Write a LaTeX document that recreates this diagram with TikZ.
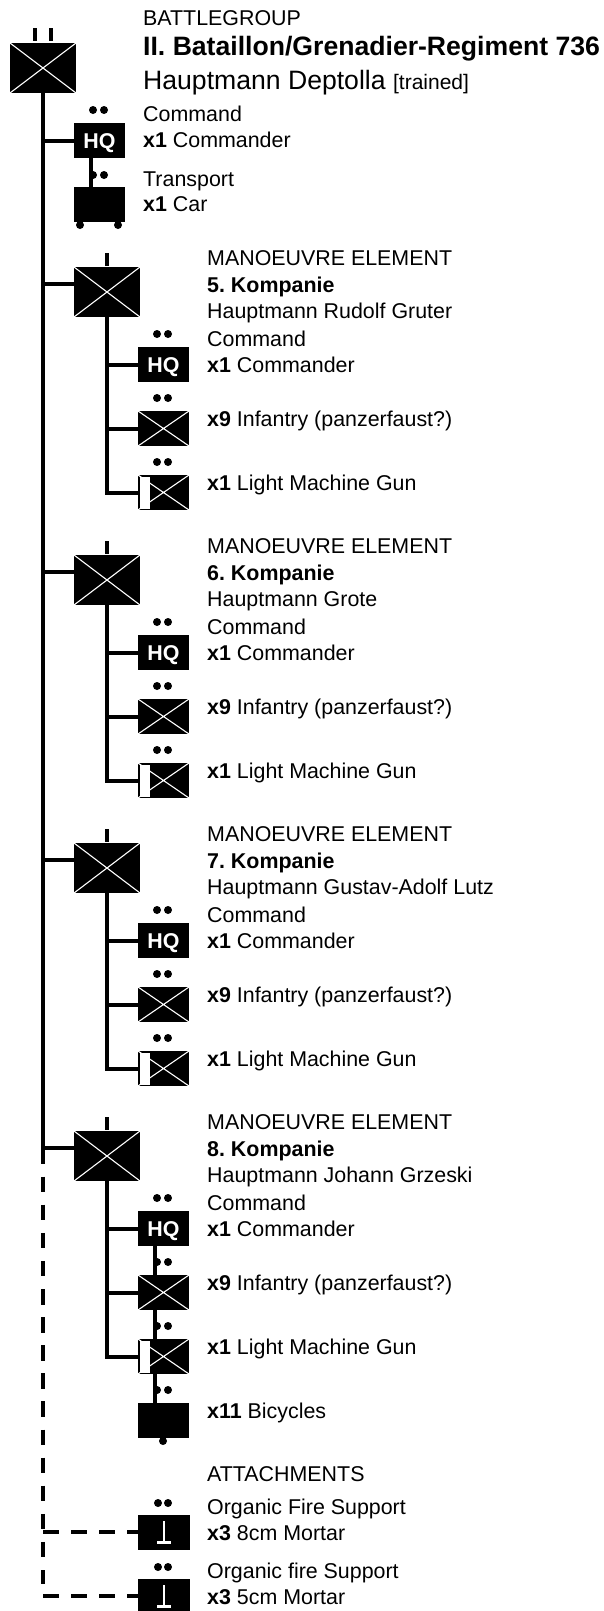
\documentclass[tikz,border=0pt]{standalone}
\usepackage{fontspec}
\setmainfont{Liberation Sans}
\usetikzlibrary{positioning}
\frenchspacing
\tikzstyle{unit} = [rectangle, fill=black, inner sep=0pt, minimum width=51pt, minimum height=35pt]
\tikzstyle{bigunit} = [rectangle, fill=black, inner sep=0pt, minimum width=66pt, minimum height=50pt]
\tikzstyle{crossed} = [path picture={\draw [white, line width=1.1pt] (path picture bounding box.north west) -- (path picture bounding box.south east) (path picture bounding box.north east) -- (path picture bounding box.south west);}]
\tikzstyle{hq} = [unit, text=white, text height=15pt, text depth=0pt, font=\fontsize{21.4}{21.4}\selectfont\bfseries]
\tikzstyle{label} = [anchor=base west, inner sep=0pt, font=\fontsize{21.4}{21.4}\selectfont]
\tikzstyle{link} = [line width=4pt]
\tikzstyle{attached} = [line width=4pt, dash pattern=on 15.5pt off 12.6pt]
\tikzstyle{solidNode} = [circle, inner sep=0pt, minimum size=8pt, fill=black]
\tikzstyle{rank} = [rectangle, inner sep=0pt, minimum width=3.5pt, minimum height=13pt, fill=black]
\begin{document}
\begin{tikzpicture}[x=1pt, y=-1pt]
\useasboundingbox (0,0) rectangle (603,1611);
% battlegroup
\node (bg) [bigunit, crossed] at (43,68) {};
\node (bgrank1) [rank] at (35,35) {};
\node (bgrank2) [rank] at (51,35) {};
\node (bgtitle) [label] at (143,25.5) {BATTLEGROUP};
\node (bgname) [label, font=\fontsize{26.6}{26.6}\selectfont\bfseries] at (143,56) {II. Bataillon/Grenadier-Regiment 736};
\node (bgcommander) [label, font=\fontsize{26.6}{26.6}\selectfont] at (143,89.5) {Hauptmann Deptolla {\fontsize{21}{21}\selectfont [trained]}};
% command and transport
\node (bghq) [hq] at (99.5,140.5) {HQ};
\node (car) [unit] at (99.5,204.5) {};
\foreach \n/\x/\y in {bghqa/93/110, bghqb/104/110, cara/93/175, carb/104/175, wheela/80/225, wheelb/118/225} {
  \node (\n) [solidNode] at (\x,\y) {};
}
\node (bghqtext) [label] at (143,121.7) {Command};
\node (bghqcount) [label] at (143,147.7) {\textbf{x1} Commander};
\node (cartext) [label] at (143,186) {Transport};
\node (carcount) [label] at (143,211.5) {\textbf{x1} Car};
\coordinate (trunk) at (43,1164);
\coordinate (bgstem) at (43,140.5);
\coordinate (carstem) at (91,0);
\draw [link] (bg.south) -- (trunk);
\draw [link] (bgstem) -- (bghq.west);
\draw [link] (bghq.south -| carstem) -- (car.north -| carstem);
% the four companies
\foreach \k/\name/\boss [count=\i from 0] in {5/5. Kompanie/Hauptmann Rudolf Gruter, 6/6. Kompanie/Hauptmann Grote, 7/7. Kompanie/Hauptmann Gustav-Adolf Lutz, 8/8. Kompanie/Hauptmann Johann Grzeski} {
\begin{scope}[yshift=-\i*288pt]
  \node (co\k) [bigunit, crossed] at (107,292) {};
  \node (rank\k) [rank] at (107,259) {};
  \node (hq\k) [hq] at (163.5,364.5) {HQ};
  \node (inf\k) [unit, crossed] at (163.5,428.5) {};
  \node (lmg\k) [unit, crossed] at (163.5,492.5) {};
  \node (lmgbar\k) [rectangle, inner sep=0pt, minimum width=10pt, minimum height=32pt, fill=white] at (144.5,492.5) {};
  \foreach \d in {334,398,462} {
    \node (dota\k\d) [solidNode] at (157,\d) {};
    \node (dotb\k\d) [solidNode] at (168,\d) {};
  }
  \coordinate (branch\k) at (43,283.5);
  \coordinate (stem\k) at (107,492.5);
  \coordinate (stemhq\k) at (107,364.5);
  \coordinate (steminf\k) at (107,428.5);
  \draw [link] (co\k.south) -- (stem\k) -- (lmg\k.west);
  \draw [link] (stemhq\k) -- (hq\k.west);
  \draw [link] (steminf\k) -- (inf\k.west);
  \draw [link] (branch\k) -- (branch\k -| co\k.west);
  \node (head\k) [label] at (207,265.5) {MANOEUVRE ELEMENT};
  \node (name\k) [label, font=\fontsize{21.4}{21.4}\selectfont\bfseries] at (207,292) {\name};
  \node (boss\k) [label] at (207,318.2) {\boss};
  \node (cmd\k) [label] at (207,346.2) {Command};
  \node (hqtext\k) [label] at (207,372.2) {\textbf{x1} Commander};
  \node (inftext\k) [label] at (207,426.2) {\textbf{x9} Infantry (panzerfaust?)};
  \node (lmgtext\k) [label] at (207,490.5) {\textbf{x1} Light Machine Gun};
\end{scope}
}
% extra in 8. Kompanie
\node (bike) [unit] at (163.5,1420.5) {};
\node (bikewheel) [solidNode] at (163,1441) {};
\node (biketext) [label] at (207,1418) {\textbf{x11} Bicycles};
\node (bikedota) [solidNode] at (157,1390) {};
\node (bikedotb) [solidNode] at (168,1390) {};
\coordinate (bikestem) at (155,0);
\draw [link] (hq8.south -| bikestem) -- (inf8.north -| bikestem);
\draw [link] (inf8.south -| bikestem) -- (lmg8.north -| bikestem);
\draw [link] (lmg8.south -| bikestem) -- (bike.north -| bikestem);
% attachments
\node (att) [label] at (207,1481.5) {ATTACHMENTS};
\foreach \m/\yy/\ttl/\cal in {a/1532/Organic Fire Support/8cm, b/1596/Organic fire Support/5cm} {
  \node (mortar\m) [unit, minimum width=52pt] at (164,\yy) {};
  \draw [white, line width=1.8pt] (164,\yy-11) -- (164,\yy+9);
  \draw [white, line width=3pt] (157,\yy+10.5) -- (171,\yy+10.5);
  \node (mdota\m) [solidNode] at (158,\yy-29) {};
  \node (mdotb\m) [solidNode] at (168,\yy-29) {};
  \node (mtext\m) [label] at (207,\yy-17.5) {\ttl};
  \node (mcount\m) [label] at (207,\yy+8.5) {\textbf{x3} \cal{} Mortar};
  \coordinate (mstem\m) at (43,\yy);
  \draw [attached] (mstem\m) -- (mortar\m.west);
}
\coordinate (trunkend) at (43,1584);
\draw [attached, dash phase=15.5pt] (trunk) -- (trunkend);
\end{tikzpicture}
\end{document}
